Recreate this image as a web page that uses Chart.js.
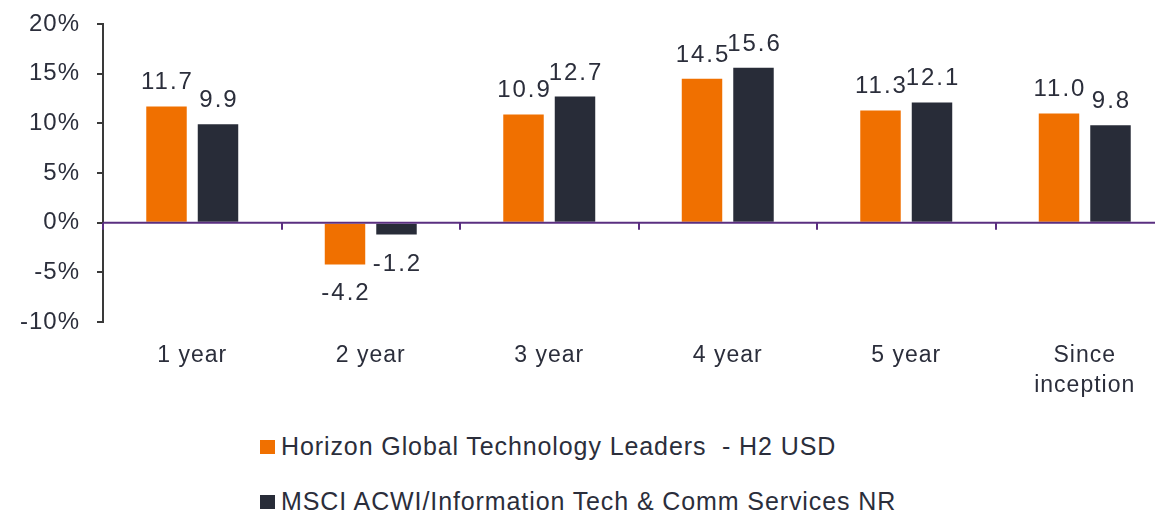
<!DOCTYPE html>
<html>
<head>
<meta charset="utf-8">
<script src="https://cdn.jsdelivr.net/npm/chart.js@4.4.1/dist/chart.umd.min.js"></script>
<style>
  html, body { margin: 0; padding: 0; background: #ffffff; overflow: hidden; width: 1155px; height: 515px; }
  #wrap { position: relative; width: 1174px; height: 420px; }
  #legend { position: absolute; left: 260px; top: 422px; font-family: "Liberation Sans", Arial, sans-serif; font-size: 25px; letter-spacing: 0.9px; color: #2b2e3b; }
  .item { position: relative; height: 55px; line-height: 48px; white-space: pre; }
  .sw { display: inline-block; width: 15px; height: 14px; margin-right: 6px; vertical-align: 1px; }
</style>
</head>
<body>
<div id="wrap"><canvas id="c" width="1174" height="420"></canvas></div>
<div id="legend"></div>
<script>
const categories = ["1 year", "2 year", "3 year", "4 year", "5 year", ["Since", "inception"]];
const fundValues = [11.7, -4.2, 10.9, 14.5, 11.3, 11.0];
const indexValues = [9.9, -1.2, 12.7, 15.6, 12.1, 9.8];
const seriesNames = ["Horizon Global Technology Leaders  - H2 USD", "MSCI ACWI/Information Tech & Comm Services NR"];
const seriesColors = ["#f07000", "#282c38"];
const yMin = -10, yMax = 20, yStep = 5;

const FONT = "'Liberation Sans', Arial, sans-serif";
const TEXT = "#2b2e3b";

const spacing = {
  id: 'spacing',
  beforeInit(chart) { chart.ctx.letterSpacing = "1px"; },
  beforeDraw(chart) { chart.ctx.letterSpacing = "1px"; }
};

const extras = {
  id: 'extras',
  afterDatasetsDraw(chart) {
    const ctx = chart.ctx;
    const x = chart.scales.x, y = chart.scales.y;
    const y0 = y.getPixelForValue(0);
    ctx.save();
    // zero line
    ctx.strokeStyle = "#5a2f80";
    ctx.lineWidth = 2;
    ctx.beginPath();
    ctx.moveTo(x.left, y0);
    ctx.lineTo(x.right + 5, y0);
    ctx.stroke();
    // category boundary ticks
    const n = categories.length;
    const w = (x.right - x.left) / n;
    for (let i = 0; i <= n; i++) {
      const px = Math.round(x.left + i * w);
      ctx.beginPath();
      ctx.moveTo(px, y0);
      ctx.lineTo(px, y0 + 7);
      ctx.stroke();
    }
    // data labels
    ctx.letterSpacing = "2px";
    ctx.font = "24px " + FONT;
    ctx.fillStyle = TEXT;
    ctx.textAlign = "center";
    ctx.textBaseline = "alphabetic";
    chart.data.datasets.forEach((ds, di) => {
      const meta = chart.getDatasetMeta(di);
      meta.data.forEach((bar, i) => {
        const v = ds.data[i];
        const txt = v.toFixed(1);
        const cx = bar.x + 1;
        if (v >= 0) {
          ctx.fillText(txt, cx, bar.y - 17);
        } else {
          ctx.fillText(txt, cx, bar.y + 36);
        }
      });
    });
    ctx.restore();
  }
};

new Chart(document.getElementById('c'), {
  type: 'bar',
  data: {
    labels: categories,
    datasets: [
      { label: seriesNames[0], data: fundValues, backgroundColor: seriesColors[0] },
      { label: seriesNames[1], data: indexValues, backgroundColor: seriesColors[1] }
    ]
  },
  options: {
    responsive: false,
    animation: false,
    events: [],
    layout: { padding: { top: 24, right: 0, left: 0, bottom: 0 } },
    categoryPercentage: 0.577,
    barPercentage: 0.786,
    plugins: { legend: { display: false }, tooltip: { enabled: false } },
    scales: {
      x: {
        grid: { display: false },
        border: { display: false },
        ticks: { color: TEXT, font: { family: FONT, size: 23, lineHeight: 1.3 }, padding: 11, maxRotation: 0, autoSkip: false },
        afterFit(scale) { scale.height = 98; }
      },
      y: {
        min: yMin, max: yMax,
        grid: { display: true, drawOnChartArea: false, drawTicks: true, tickLength: 6, color: "#3a3a3a", lineWidth: 2 },
        border: { display: true, color: "#3a3a3a", width: 2 },
        ticks: { stepSize: yStep, color: TEXT, font: { family: FONT, size: 24 }, padding: 17, callback: v => v + "%" },
        afterFit(scale) { scale.width = 103; scale.paddingTop = 0; scale.paddingBottom = 0; }
      }
    }
  },
  plugins: [spacing, extras]
});

const legend = document.getElementById('legend');
seriesNames.forEach((name, i) => {
  const d = document.createElement('div');
  d.className = 'item';
  const s = document.createElement('span');
  s.className = 'sw';
  s.style.background = seriesColors[i];
  d.appendChild(s);
  d.appendChild(document.createTextNode(name));
  legend.appendChild(d);
});
</script>
</body>
</html>
